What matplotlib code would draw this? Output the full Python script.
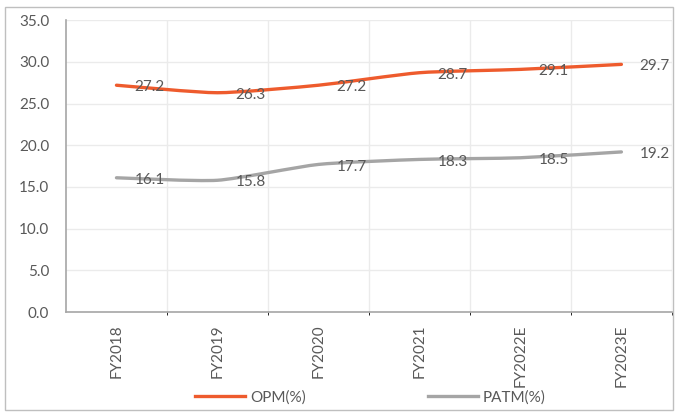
import matplotlib.pyplot as plt
from matplotlib.path import Path
from matplotlib.patches import PathPatch, Rectangle
from matplotlib.lines import Line2D
import numpy as np

years = ["FY2018", "FY2019", "FY2020", "FY2021", "FY2022E", "FY2023E"]
opm = [27.2, 26.3, 27.2, 28.7, 29.1, 29.7]
patm = [16.1, 15.8, 17.7, 18.3, 18.5, 19.2]

OPM_COLOR = "#EE5B2D"
PATM_COLOR = "#A5A5A5"
TXT = "#595959"

plt.rcParams["font.family"] = ["Lato", "DejaVu Sans"]


def smooth_path(xs, ys, k=0.1):
    # cubic bezier through the points, catmull-rom style tangents (softened)
    xs = np.asarray(xs, float)
    ys = np.asarray(ys, float)
    n = len(xs)
    verts = [(xs[0], ys[0])]
    codes = [Path.MOVETO]
    for i in range(n - 1):
        p0 = i - 1 if i > 0 else i
        p3 = i + 2 if i + 2 < n else i + 1
        c1 = (xs[i] + (xs[i + 1] - xs[p0]) * k, ys[i] + (ys[i + 1] - ys[p0]) * k)
        c2 = (xs[i + 1] - (xs[p3] - xs[i]) * k, ys[i + 1] - (ys[p3] - ys[i]) * k)
        verts += [c1, c2, (xs[i + 1], ys[i + 1])]
        codes += [Path.CURVE4] * 3
    return Path(verts, codes)


fig = plt.figure(figsize=(6.78, 4.12), dpi=100)
ax = fig.add_axes([0.0973, 0.2427, 0.8937, 0.7083])

x = np.arange(len(years))
for vals, col in [(opm, OPM_COLOR), (patm, PATM_COLOR)]:
    ax.add_patch(PathPatch(smooth_path(x, vals), facecolor="none", edgecolor=col,
                           lw=2.4, capstyle="round", zorder=3))
    for xi, v in zip(x, vals):
        ax.annotate(f"{v:.1f}", (xi, v), xytext=(13, -1.5), textcoords="offset points",
                    ha="left", va="center", fontsize=11, color=TXT, zorder=4)

ax.set_xlim(-0.5, len(years) - 0.5)
ax.set_ylim(0, 35)
ax.set_yticks(np.arange(0, 36, 5))
ax.set_yticklabels([f"{v:.1f}" for v in np.arange(0, 36, 5)])
ax.set_xticks(x)
ax.set_xticklabels(years, rotation=90)
ax.tick_params(length=0, colors=TXT, labelsize=11)
ax.tick_params(axis="y", pad=12)
ax.tick_params(axis="x", pad=9)

ax.set_xticks(np.arange(0.5, len(years), 1), minor=True)
ax.grid(axis="y", color="#EBEBEB", lw=1)
ax.grid(axis="x", which="minor", color="#EBEBEB", lw=1)
ax.set_axisbelow(True)
for s in ["top", "right"]:
    ax.spines[s].set_visible(False)
for s in ["left", "bottom"]:
    ax.spines[s].set_color("#A6A6A6")
    ax.spines[s].set_linewidth(1.2)

handles = [Line2D([], [], color=OPM_COLOR, lw=2.4),
           Line2D([], [], color=PATM_COLOR, lw=2.4)]
fig.legend(handles, ["OPM(%)", "PATM(%)"], loc="center", bbox_to_anchor=(0.546, 0.036),
           ncol=2, frameon=False, fontsize=11, handlelength=3.3, handletextpad=0.3,
           columnspacing=8, labelcolor=TXT)

fig.patches.append(Rectangle((0.007, 0.005), 0.986, 0.978, transform=fig.transFigure,
                             fill=False, edgecolor="#BFBFBF", lw=1))

fig.savefig("out.png", dpi=100)
